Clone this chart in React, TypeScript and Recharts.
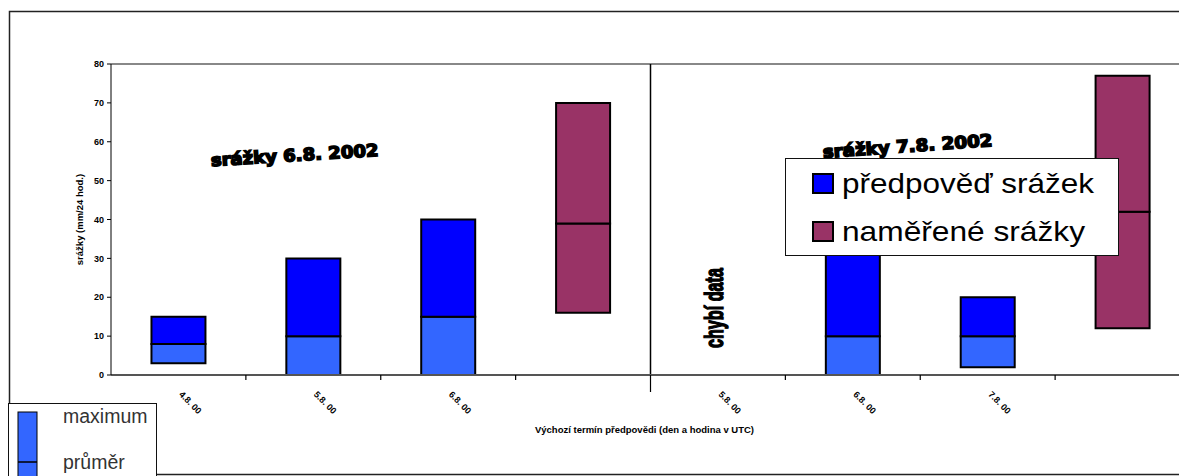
import { Bar, BarChart, Cell, Legend, ReferenceLine, XAxis, YAxis } from 'recharts'

const FONT = '"Liberation Sans", Arial, sans-serif'

// forecast start terms (two panels: rain of 6.8. and rain of 7.8.)
const categories = ['4.8. 00', '5.8. 00', '6.8. 00', '', '5.8. 00', '6.8. 00', '7.8. 00', '']
const kinds = ['forecast', 'forecast', 'forecast', 'measured', null, 'forecast', 'forecast', 'measured']

// precipitation in mm / 24 h
const minimum = [3, 0, 0, 16, null, 0, 2, 12]
const average = [8, 10, 15, 39, null, 10, 10, 42]
const maximum = [15, 30, 40, 70, null, 40, 20, 77]

const yTicks = [0, 10, 20, 30, 40, 50, 60, 70, 80]

const series = [
  { key: 'forecast', name: 'předpověď srážek', upper: '#0000FF', lower: '#3366FF' },
  { key: 'measured', name: 'naměřené srážky', upper: '#993366', lower: '#993366' },
]

const colorsOf = (kind: string | null) =>
  series.find((s) => s.key === kind) ?? series[0]

const data = categories.map((label, i) => {
  const lo = minimum[i]
  const mid = average[i]
  const hi = maximum[i]
  const missing = lo == null || mid == null || hi == null
  return {
    idx: i,
    label,
    kind: kinds[i],
    base: missing ? 0 : lo,
    lower: missing ? 0 : mid - lo,
    upper: missing ? 0 : hi - mid,
  }
})

function CategoryTick({ x, y, payload, index }: any) {
  const half = payload?.offset ?? 0
  const edge = x - half
  return (
    <g>
      {index > 0 && (
        <line
          x1={edge}
          x2={edge}
          y1={y}
          y2={y + (index === 4 ? 17 : 5)}
          stroke="#000"
          strokeWidth={1.2}
        />
      )}
      <text
        transform={`translate(${x},${y + 20}) rotate(45)`}
        fontSize={9}
        fontWeight="bold"
        fontFamily={FONT}
        fill="#000"
      >
        {categories[payload.value]}
      </text>
    </g>
  )
}

function SeriesLegend() {
  return (
    <div
      style={{
        width: 334,
        height: 98,
        boxSizing: 'border-box',
        border: '1px solid #111',
        background: '#fff',
      }}
    >
      <svg width={332} height={96} style={{ display: 'block' }}>
        {series.map((s, i) => (
          <g key={s.key}>
            <rect
              x={27}
              y={15 + i * 48}
              width={20}
              height={19}
              fill={s.upper}
              stroke="#000"
              strokeWidth={2}
            />
            <text
              x={56}
              y={34 + i * 48}
              fontSize={28}
              fontFamily={FONT}
              fill="#000"
              textLength={i === 0 ? 252 : 243}
              lengthAdjust="spacingAndGlyphs"
            >
              {s.name}
            </text>
          </g>
        ))}
      </svg>
    </div>
  )
}

const headingStyle = {
  fontSize: 17,
  fontWeight: 'bold' as const,
  fontFamily: '"DejaVu Sans", sans-serif',
  fill: '#000',
  stroke: '#000',
  strokeWidth: 1.6,
}

export default function App() {
  return (
    <div
      style={{
        position: 'relative',
        width: 1179,
        height: 476,
        overflow: 'hidden',
        background: '#fff',
        fontFamily: FONT,
      }}
    >
      <style>{'html, body { margin: 0; padding: 0; overflow: hidden; }'}</style>
      <div style={{ position: 'absolute', left: 0, top: 0 }}>
        <BarChart
          width={1179}
          height={476}
          data={data}
          margin={{ top: 64, right: -11, left: 49, bottom: 41 }}
          barCategoryGap="30%"
        >
          <ReferenceLine y={80} stroke="#888" strokeWidth={2} />
          <ReferenceLine x={4} position="start" stroke="#000" strokeWidth={1.5} />
          <XAxis
            dataKey="idx"
            height={60}
            interval={0}
            tickLine={false}
            tickSize={0}
            tickMargin={0}
            axisLine={{ stroke: '#555', strokeWidth: 2 }}
            tick={<CategoryTick />}
            label={{
              value: 'Výchozí termín předpovědi (den a hodina v UTC)',
              position: 'insideBottom',
              offset: 2,
              dx: -6,
              style: { fontSize: 9.5, fontWeight: 'bold', fill: '#000', fontFamily: FONT },
            }}
          />
          <YAxis
            width={62}
            domain={[0, 80]}
            ticks={yTicks}
            interval={0}
            tickSize={4}
            tickMargin={3}
            axisLine={{ stroke: '#000' }}
            tickLine={{ stroke: '#000' }}
            tick={{ fontSize: 9, fontWeight: 'bold', fill: '#000', fontFamily: FONT }}
            label={{
              value: 'srážky (mm/24 hod.)',
              angle: -90,
              position: 'center',
              style: { fontSize: 9.5, fontWeight: 'bold', fill: '#000', fontFamily: FONT },
            }}
          />
          <Bar dataKey="base" stackId="range" fill="transparent" stroke="none" legendType="none" isAnimationActive={false} />
          <Bar dataKey="lower" stackId="range" stroke="#000" strokeWidth={2} isAnimationActive={false}>
            {data.map((d) => (
              <Cell key={`lo-${d.idx}`} fill={colorsOf(d.kind).lower} />
            ))}
          </Bar>
          <Bar dataKey="upper" stackId="range" stroke="#000" strokeWidth={2} isAnimationActive={false}>
            {data.map((d) => (
              <Cell key={`hi-${d.idx}`} fill={colorsOf(d.kind).upper} />
            ))}
          </Bar>
          <text transform="translate(295,161) rotate(-3.5)" textAnchor="middle" textLength={168} lengthAdjust="spacingAndGlyphs" {...headingStyle}>
            srážky 6.8. 2002
          </text>
          <text transform="translate(908,152) rotate(-4)" textAnchor="middle" textLength={170} lengthAdjust="spacingAndGlyphs" {...headingStyle}>
            srážky 7.8. 2002
          </text>
          <text
            transform="translate(723,308) rotate(-90)"
            textAnchor="middle"
            fontSize={25}
            fontWeight="bold"
            fontFamily='"Liberation Sans Narrow", "Liberation Sans", sans-serif'
            textLength={80}
            lengthAdjust="spacingAndGlyphs"
            fill="#000"
            stroke="#000"
            strokeWidth={1.4}
          >
            chybí data
          </text>
          <Legend
            layout="vertical"
            align="center"
            verticalAlign="middle"
            wrapperStyle={{ left: 785, top: 158, width: 334 }}
            content={<SeriesLegend />}
          />
        </BarChart>
      </div>
      {/* outer chart-area frame, open on the right */}
      <svg
        width={1179}
        height={476}
        style={{ position: 'absolute', left: 0, top: 0, pointerEvents: 'none' }}
      >
        <polyline points="1179,11.5 9.5,11.5 9.5,474.5 1179,474.5" fill="none" stroke="#222" strokeWidth={1.5} />
      </svg>
      {/* bar key: maximum / average */}
      <svg width={170} height={73} style={{ position: 'absolute', left: 8, top: 403 }}>
        <rect x={0.5} y={0.5} width={148} height={90} fill="#fff" stroke="#111" strokeWidth={1} />
        <rect x={10} y={9} width={19} height={80} fill="#3366FF" stroke="#000" strokeWidth={1} />
        <line x1={10} x2={29} y1={59} y2={59} stroke="#000" strokeWidth={1.5} />
        <text x={55} y={20} fontSize={19.5} fill="#333" fontFamily={FONT}>
          maximum
        </text>
        <text x={55} y={66} fontSize={19.5} fill="#333" fontFamily={FONT}>
          průměr
        </text>
      </svg>
    </div>
  )
}
